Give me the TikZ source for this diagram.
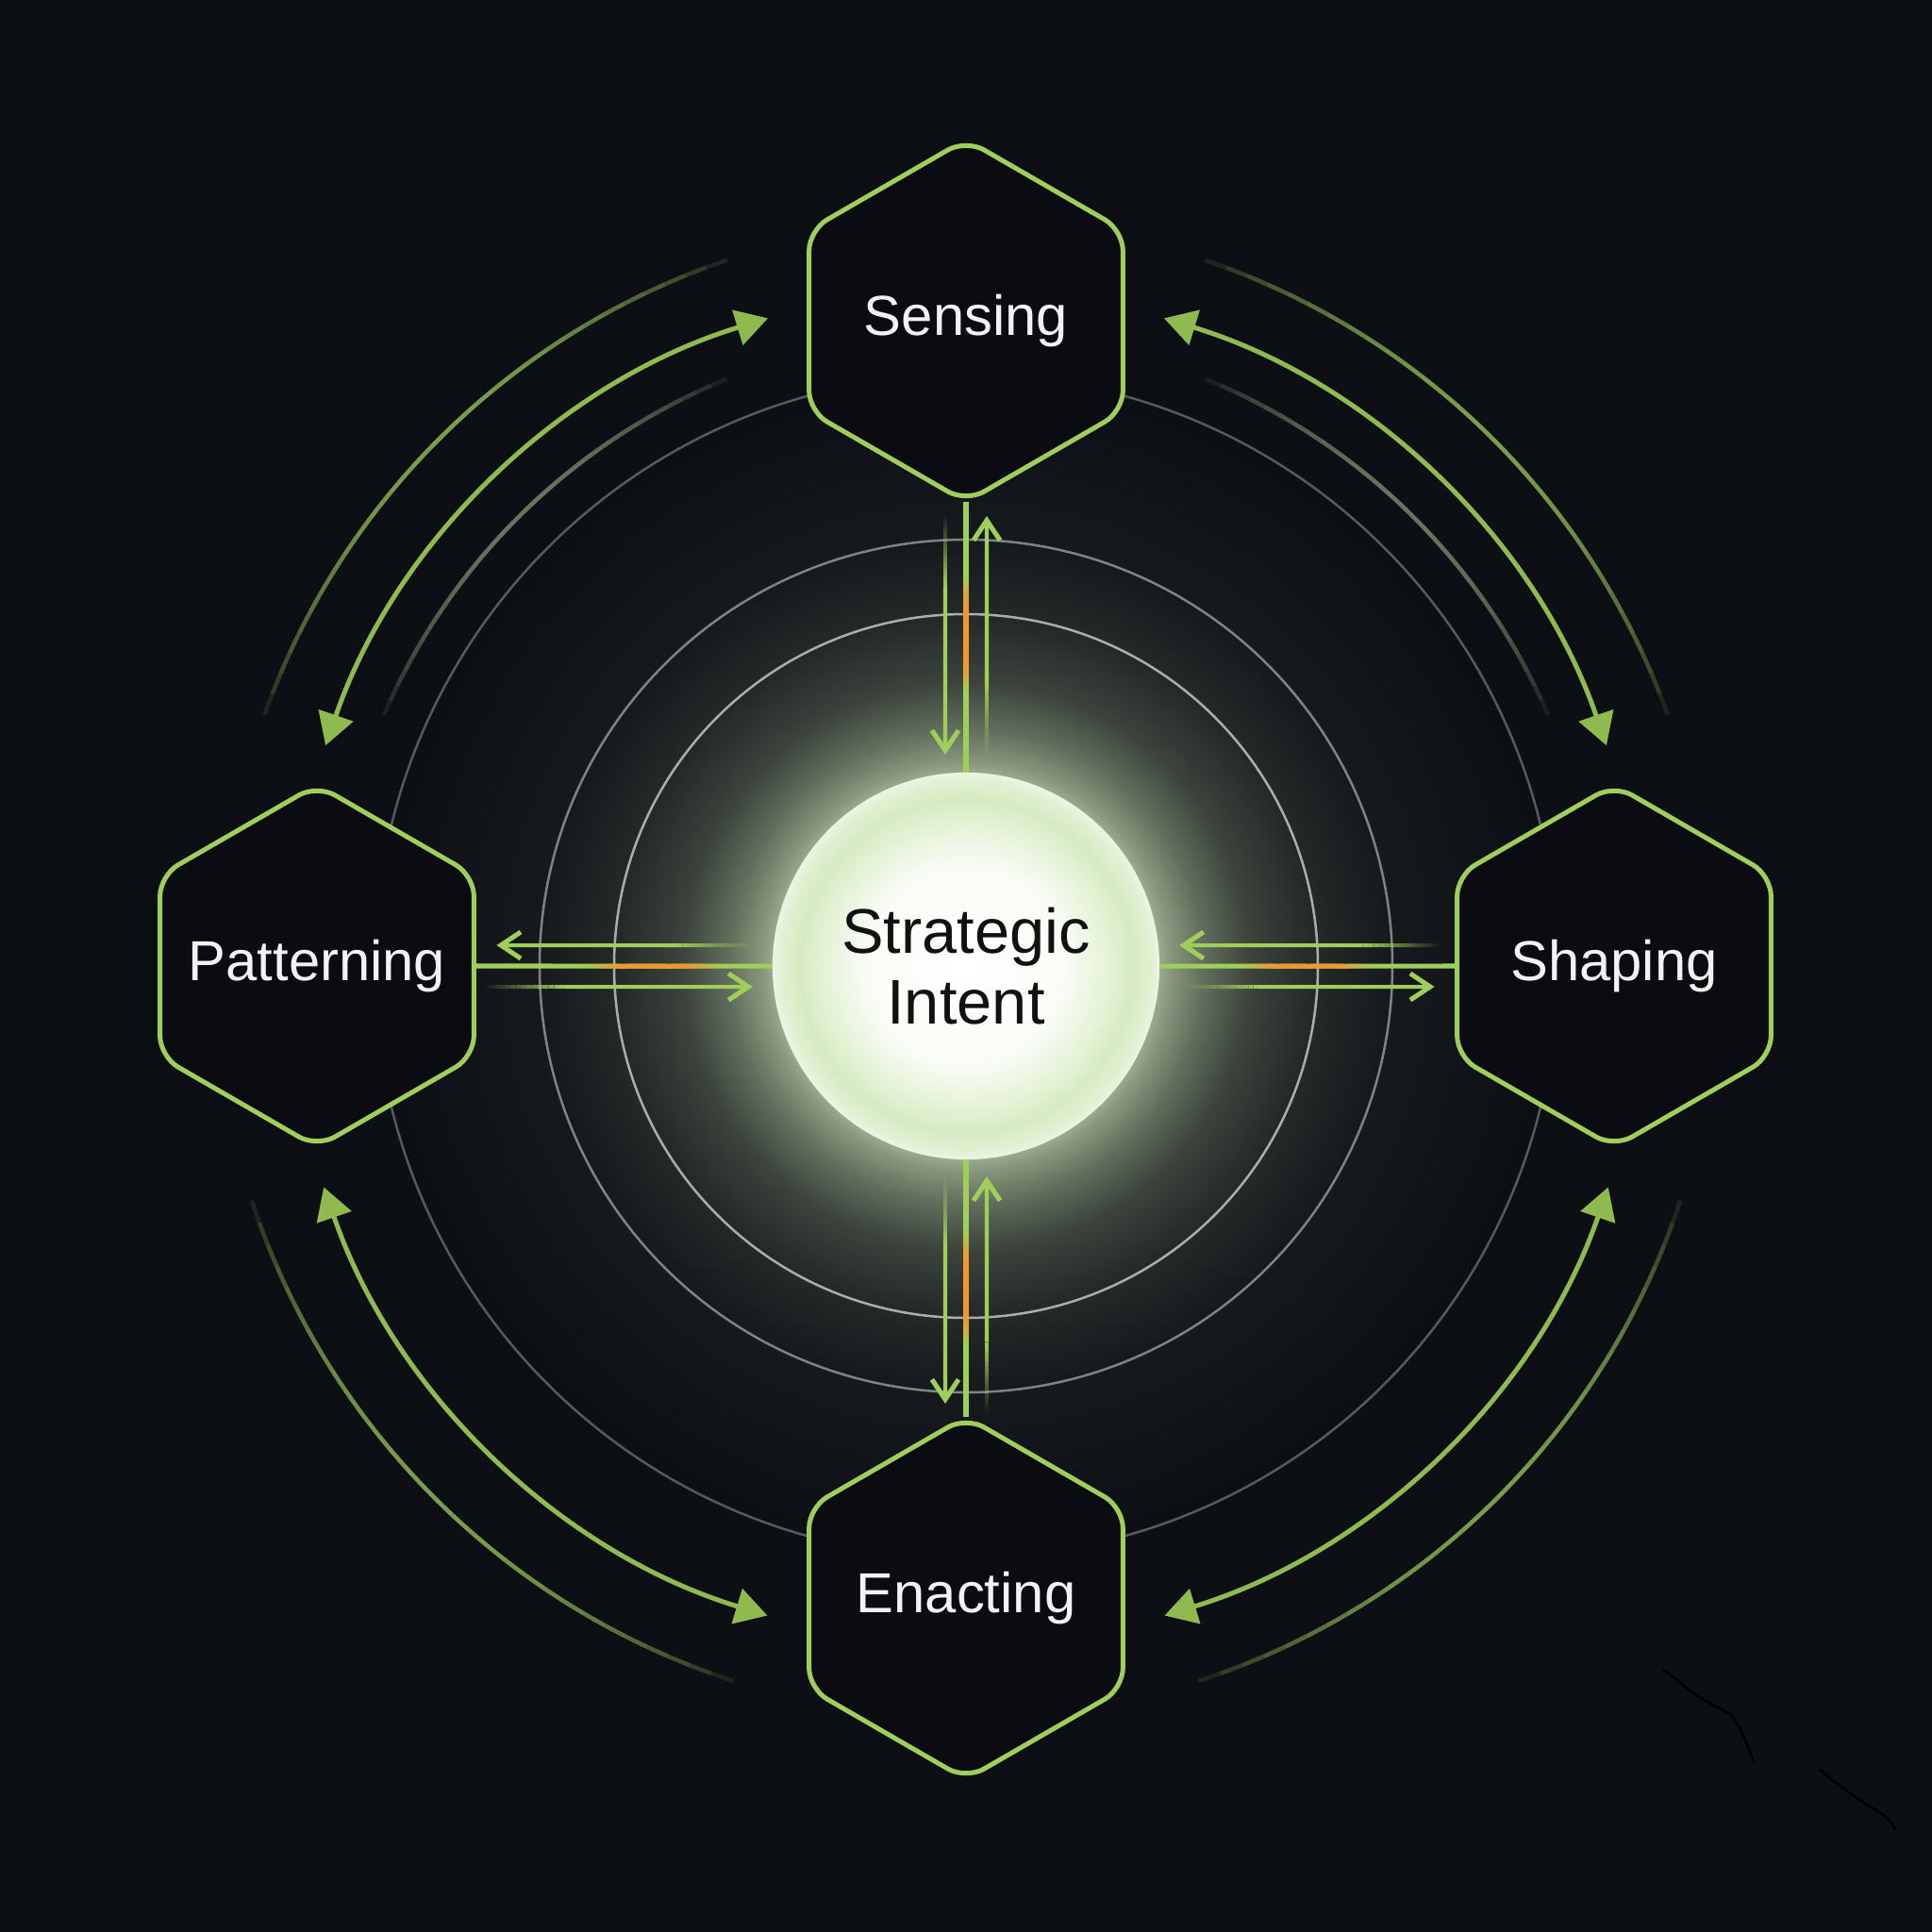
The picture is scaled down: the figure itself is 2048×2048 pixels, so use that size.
\documentclass[tikz,border=0pt]{standalone}
\usepackage{fontspec}
\setmainfont{Liberation Sans}
\usetikzlibrary{shapes.geometric,arrows.meta,calc}

\definecolor{bg}{RGB}{12,15,20}
\definecolor{hexfill}{RGB}{10,12,18}
\definecolor{lime}{RGB}{160,206,90}
\definecolor{arcg}{RGB}{142,186,80}
\definecolor{orng}{RGB}{242,150,48}
\definecolor{fainto}{RGB}{128,166,78}
\definecolor{fainti}{RGB}{116,128,102}
\definecolor{ringA}{RGB}{172,174,172}
\definecolor{ringB}{RGB}{128,130,134}
\definecolor{ringC}{RGB}{86,89,96}
\definecolor{hextext}{RGB}{242,242,242}
\definecolor{coretext}{RGB}{17,17,17}
\definecolor{glA}{RGB}{165,181,154}
\definecolor{glB}{RGB}{136,152,125}
\definecolor{glC}{RGB}{98,111,93}
\definecolor{glD}{RGB}{60,68,61}
\definecolor{glE}{RGB}{36,41,41}
\definecolor{glF}{RGB}{22,26,29}
\definecolor{csA}{RGB}{255,255,255}
\definecolor{csB}{RGB}{249,252,246}
\definecolor{csC}{RGB}{226,241,210}
\definecolor{csD}{RGB}{214,235,194}
\definecolor{csE}{RGB}{226,240,212}
\definecolor{csF}{RGB}{236,244,228}

\pgfdeclareradialshading{glowshade}{\pgfpoint{0bp}{0bp}}{color(0bp)=(glA); color(8bp)=(glA); color(8.7bp)=(glB); color(10.1bp)=(glC); color(12.1bp)=(glD); color(14.9bp)=(glE); color(18.1bp)=(glF); color(25bp)=(bg); color(50bp)=(bg)}
\pgfdeclareradialshading{coreshade}{\pgfpoint{0bp}{0bp}}{color(0bp)=(csA); color(13bp)=(csB); color(19bp)=(csC); color(21.5bp)=(csD); color(24bp)=(csE); color(25bp)=(csF); color(50bp)=(csF)}

\pgfdeclarelayer{bgl}
\pgfsetlayers{bgl,main}

\newcommand\hexlabel[1]{\makebox[0pt][c]{#1}}

\tikzset{
  hexnode/.style={regular polygon, regular polygon sides=6, shape border rotate=30,
    minimum size=3.84cm, inner sep=0pt, outer sep=0pt, draw=lime, line width=0.05cm,
    fill=hexfill, rounded corners=0.22cm, text=hextext,
    font=\fontsize{17pt}{19pt}\selectfont},
  corenode/.style={circle, minimum size=4.1cm, inner sep=0pt, outer sep=0pt,
    shade, shading=coreshade, text=coretext, align=center,
    font=\fontsize{19pt}{21.3pt}\selectfont},
  ringa/.style={draw=ringA, line width=0.025cm},
  ringb/.style={draw=ringB, line width=0.025cm},
  ringc/.style={draw=ringC, line width=0.025cm},
  mainline/.style={draw=lime, line width=0.05cm},
  sarrow/.style={draw=lime, line width=0.04cm, -{Straight Barb[length=6pt,width=8pt,line width=0.05cm]}},
  marc/.style={draw=arcg, line width=0.05cm, {Triangle[length=9.6pt,width=10.8pt]}-{Triangle[length=9.6pt,width=10.8pt]}}
}

% faded start of a straight line
\newcommand\rampline[5]{%
  \foreach \k in {0,...,14}{%
    \pgfmathsetmacro\myta{#5*\k/15}%
    \pgfmathsetmacro\mytb{#5*(\k+1)/15}%
    \pgfmathsetmacro\myop{(\k+0.5)/15}%
    \draw[draw=#3, draw opacity=\myop, line width=#4] ($(#1)!\myta!(#2)$) -- ($(#1)!\mytb!(#2)$);%
  }}
\newcommand\fadedarrow[2]{%
  \rampline{#1}{#2}{lime}{0.04cm}{0.3}%
  \draw[sarrow] ($(#1)!0.3!(#2)$) -- (#2);}
% bump of colour along a line
\newcommand\bumpline[6]{%
  \foreach \k in {0,...,19}{%
    \pgfmathsetmacro\myta{#5+(#6-#5)*\k/20}%
    \pgfmathsetmacro\mytb{#5+(#6-#5)*(\k+1)/20}%
    \pgfmathsetmacro\myop{min(1,1.4*sin(180*(\k+0.5)/20))}%
    \draw[draw=#3, draw opacity=\myop, line width=#4] ($(#1)!\myta!(#2)$) -- ($(#1)!\mytb!(#2)$);%
  }}
% arc fading at both ends
\newcommand\fadearc[5]{%
  \foreach \k in {0,...,29}{%
    \pgfmathsetmacro\angA{#2+(#3-#2)*\k/30}%
    \pgfmathsetmacro\angB{#2+(#3-#2)*(\k+1)/30}%
    \pgfmathsetmacro\myop{#5*(sin(180*(\k+0.5)/30))^0.6}%
    \draw[draw=#4, draw opacity=\myop, line width=0.045cm] ($(core.center)+(\angA:#1)$) arc[start angle=\angA, end angle=\angB, radius=#1];%
  }}

\begin{document}
\begin{tikzpicture}[x=0.01cm,y=0.01cm]
\useasboundingbox (-1024,-1024) rectangle (1024,1024);

\node[corenode] (core) at (0,0) {Strategic\\Intent};
\node[hexnode] (sens) at (0,684) {\hexlabel{Sensing}};
\node[hexnode] (shap) at (687,0) {\hexlabel{Shaping}};
\node[hexnode] (patt) at (-688,0) {\hexlabel{Patterning}};
\node[hexnode] (enac) at (0,-670) {\hexlabel{Enacting}};

% arrow end points
\coordinate (tinS) at ($(sens.-90)+(-22,-13)$);
\coordinate (tinE) at ($(core.90)+(-22,19)$);
\coordinate (toutS) at ($(core.90)+(22,16)$);
\coordinate (toutE) at ($(sens.-90)+(22,-15)$);
\coordinate (boutS) at ($(core.-90)+(-22,-14)$);
\coordinate (boutE) at ($(enac.90)+(-22,14)$);
\coordinate (binS) at ($(enac.90)+(22,4)$);
\coordinate (binE) at ($(core.-90)+(22,-18)$);
\coordinate (loutS) at ($(core.180)+(-19,22)$);
\coordinate (loutE) at ($(patt.0)+(24,22)$);
\coordinate (linS) at ($(patt.0)+(11,-22)$);
\coordinate (linE) at ($(core.180)+(-21,-22)$);
\coordinate (rinS) at ($(shap.180)+(-17,22)$);
\coordinate (rinE) at ($(core.0)+(21,22)$);
\coordinate (routS) at ($(core.0)+(25,-22)$);
\coordinate (routE) at ($(shap.180)+(-24,-22)$);

\begin{pgfonlayer}{bgl}
  \fill[bg] (-1024,-1024) rectangle (1024,1024);
  \shade[shading=glowshade] (core.center) circle (620);
  \draw[ringa] (core.center) circle (373);
  \draw[ringb] (core.center) circle (452);
  \draw[ringc] (core.center) circle (627);

  % faint companion arcs
  \fadearc{790}{108.7}{160.3}{fainto}{0.95}
  \fadearc{790}{71.3}{19.7}{fainto}{0.95}
  \fadearc{797}{198.2}{252}{fainto}{0.95}
  \fadearc{797}{341.8}{288}{fainto}{0.95}
  \fadearc{672}{112.2}{156.7}{fainti}{0.9}
  \fadearc{672}{67.8}{23.3}{fainti}{0.9}

  % main curved double arrows
  \draw[marc] ($(core.center)+(161:718)$) arc[start angle=161, end angle=107, radius=718];
  \draw[marc] ($(core.center)+(19:718)$) arc[start angle=19, end angle=73, radius=718];
  \draw[marc] ($(core.center)+(199:720)$) arc[start angle=199, end angle=253, radius=720];
  \draw[marc] ($(core.center)+(341:720)$) arc[start angle=341, end angle=287, radius=720];

  % main radial links
  \draw[mainline] (sens) -- (core);
  \draw[mainline] (enac) -- (core);
  \draw[mainline] (patt) -- (core);
  \draw[mainline] (shap) -- (core);
  \bumpline{sens.-90}{core.90}{orng}{0.05cm}{0.28}{0.70}
  \bumpline{enac.90}{core.-90}{orng}{0.05cm}{0.28}{0.72}
  \bumpline{patt.0}{core.180}{orng}{0.05cm}{0.38}{0.82}
  \bumpline{shap.180}{core.0}{orng}{0.05cm}{0.30}{0.72}

  % flow arrows
  \fadedarrow{tinS}{tinE}
  \fadedarrow{toutS}{toutE}
  \fadedarrow{boutS}{boutE}
  \fadedarrow{binS}{binE}
  \fadedarrow{loutS}{loutE}
  \fadedarrow{linS}{linE}
  \fadedarrow{rinS}{rinE}
  \fadedarrow{routS}{routE}

  % stray dark strokes
  \draw[black, line width=0.025cm, line cap=round] plot[smooth] coordinates {(739.3,-746) (752.7,-756) (776,-774.3) (809.3,-792.7) (816,-801) (824.3,-816) (835.3,-844.3)};
  \draw[black, line width=0.025cm, line cap=round] plot[smooth] coordinates {(905.3,-851.7) (916,-861) (942.7,-881) (969.3,-897.7) (979.3,-906) (985.3,-916)};
\end{pgfonlayer}
\end{tikzpicture}
\end{document}
